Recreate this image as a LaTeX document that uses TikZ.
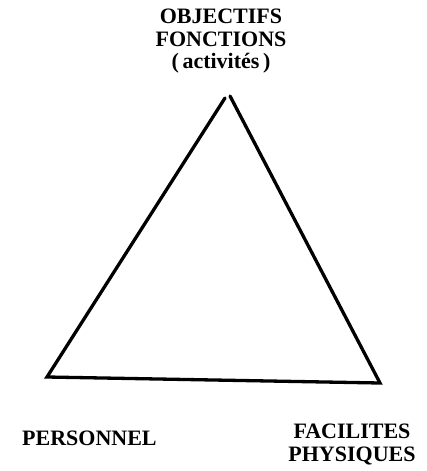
\documentclass[tikz,border=0pt]{standalone}
\usepackage{fontspec}
\setmainfont{Liberation Serif}
\begin{document}
\begin{tikzpicture}[x=1pt, y=-1pt, every node/.style={font=\bfseries\fontsize{22}{22.5}\selectfont, inner sep=0pt, align=center}]
    \useasboundingbox (0,0) rectangle (426,471);
    % corners
    \coordinate (apexL) at (225,98);
    \coordinate (apexR) at (230,96);
    \coordinate (botL) at (47,377);
    \coordinate (botR) at (380,383);
    \draw[line width=3.3pt, line cap=round] (apexL) -- (botL) -- (botR) -- (apexR);
    % labels
    \node[anchor=north] (objectifs) at (221,9) {OBJECTIFS\\FONCTIONS\\(\,activités\,)};
    \node[anchor=base west] (personnel) at (22,445) {PERSONNEL};
    \node[anchor=north] (facilites) at (352,424) {FACILITES\\PHYSIQUES};
\end{tikzpicture}
\end{document}
